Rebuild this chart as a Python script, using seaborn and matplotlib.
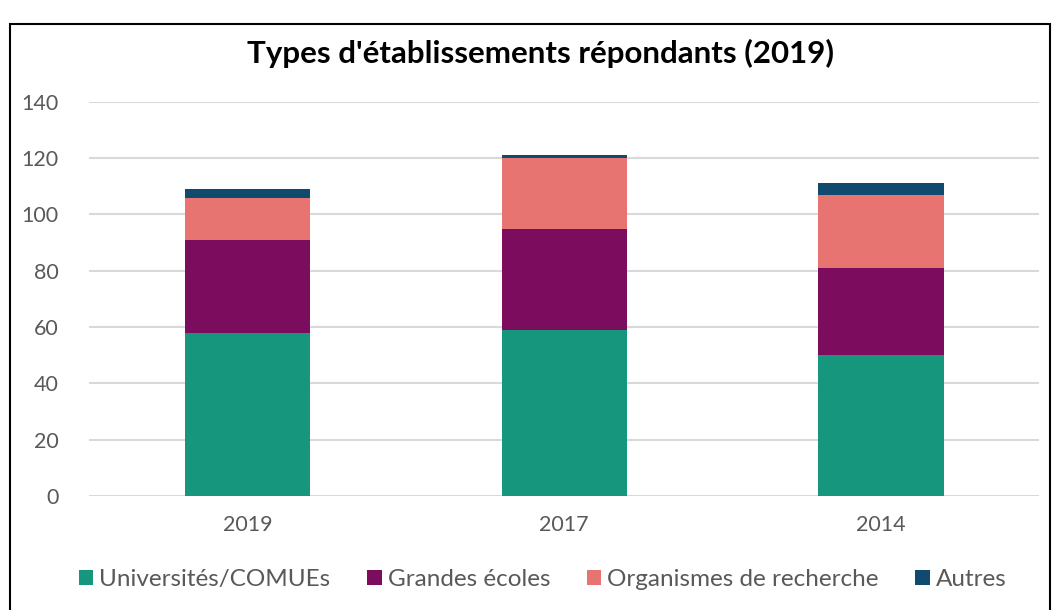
import pandas as pd
import numpy as np
import seaborn as sns
import matplotlib.pyplot as plt
from matplotlib.patches import Rectangle, Patch

years = ['2019', '2017', '2014']
universites = [58, 59, 50]
grandes_ecoles = [33, 36, 31]
organismes = [15, 25, 26]
autres = [3, 1, 4]

series = ['Universités/COMUEs', 'Grandes écoles', 'Organismes de recherche', 'Autres']
colors = ['#16967C', '#7B0C5E', '#E77471', '#104A6E']

df = pd.DataFrame({'year': years,
                   series[0]: universites,
                   series[1]: grandes_ecoles,
                   series[2]: organismes,
                   series[3]: autres})

sns.set_style("white")
plt.rcParams['font.family'] = ['Lato', 'DejaVu Sans']

fig = plt.figure(figsize=(10.56, 6.10), dpi=100)
ax = fig.add_axes([0.0843, 0.187, 0.900, 0.646])

# stacked bars: draw cumulative totals from top segment down
cum = df[series].cumsum(axis=1)
for s, c in reversed(list(zip(series, colors))):
    sns.barplot(x=df['year'], y=cum[s], color=c, width=0.395,
                saturation=1, linewidth=0, ax=ax, zorder=3)

ax.set_ylim(0, 140)
ax.set_xlim(-0.5, 2.5)
ax.set_yticks(range(0, 141, 20))
ax.yaxis.grid(True, color='#D9D9D9', linewidth=1.5, zorder=0)
ax.set_axisbelow(True)
for sp in ax.spines.values():
    sp.set_visible(False)
ax.tick_params(axis='both', length=0, labelsize=15.5, labelcolor='#595959')
ax.tick_params(axis='y', pad=22)
ax.tick_params(axis='x', pad=14)
ax.set_xlabel('')
ax.set_ylabel('')

fig.text(0.512, 0.913, "Types d'établissements répondants (2019)",
         ha='center', va='center', fontsize=22.5, fontweight='bold', color='black')

handles = [Patch(facecolor=c, edgecolor='none') for c in colors]
fig.legend(handles, series, loc='center', bbox_to_anchor=(0.514, 0.05), ncol=4,
           frameon=False, fontsize=17.5, handlelength=0.6, handleheight=0.6,
           handletextpad=0.25, columnspacing=1.5, labelcolor='#595959')

fig.patches.append(Rectangle((10 / 1056, -0.05), 1040 / 1056, 1.03 - 12 / 610,
                             transform=fig.transFigure, fill=False,
                             edgecolor='black', linewidth=1.5))

fig.savefig('out.png', dpi=100)
